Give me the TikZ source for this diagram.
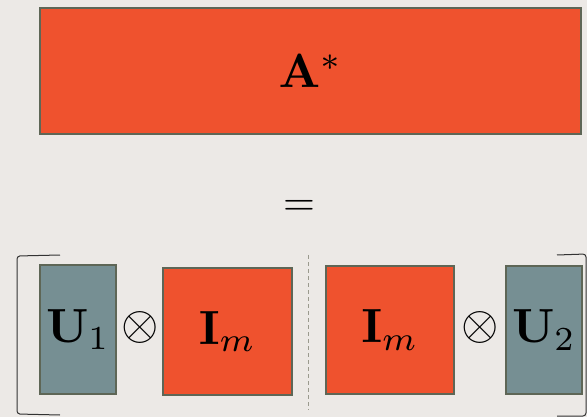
\documentclass[tikz,border=0pt]{standalone}
\usepackage{graphicx}
\definecolor{bg}{HTML}{ECE9E6}
\definecolor{orng}{HTML}{EF522E}
\definecolor{tealg}{HTML}{768F93}
\definecolor{edge}{HTML}{5E6656}
\definecolor{dashc}{HTML}{9A9A8E}
\newcommand{\matlbl}[1]{\scalebox{4.8}{#1}}
\tikzset{
  mat/.style={draw=edge, line width=2pt, inner sep=0pt},
  orbox/.style={mat, fill=orng},
  tlbox/.style={mat, fill=tealg},
  opsym/.style={inner sep=0pt},
  brk/.style={draw=black!80, line width=1pt, rounded corners=3pt}
}
\begin{document}
\begin{tikzpicture}[x=1pt, y=-1pt]
\fill[bg] (0,0) rectangle (587,417);
\useasboundingbox (0,0) rectangle (587,417);
% top matrix
\node[orbox, minimum width=541pt, minimum height=126pt] (A) at (310.5,71) {\matlbl{$\mathbf{A}^*$}};
% equals
\node[opsym] (eq) at (299,208) {\scalebox{4.1}{$=$}};
% bottom row
\node[tlbox, minimum width=76pt, minimum height=129pt] (U1) at (78,329.5) {\matlbl{$\mathbf{U}_1$}};
\node[opsym] (o1) at (140,327) {\matlbl{$\otimes$}};
\node[orbox, minimum width=129pt, minimum height=127pt] (I1) at (227.5,331.5) {\matlbl{$\mathbf{I}_m$}};
\node[orbox, minimum width=128pt, minimum height=128pt] (I2) at (390,330) {\matlbl{$\mathbf{I}_m$}};
\node[opsym] (o2) at (480.5,327) {\matlbl{$\otimes$}};
\node[tlbox, minimum width=76pt, minimum height=128pt] (U2) at (544,330) {\matlbl{$\mathbf{U}_2$}};
% dashed separator
\coordinate (dt) at (308,255);
\coordinate (db) at (308,410);
\draw[dashc, line width=1pt, dash pattern=on 4pt off 3pt] (dt) -- (db);
% brackets
\coordinate (lb1) at (60,255);
\coordinate (lb2) at (17,256);
\coordinate (lb3) at (17,414);
\coordinate (lb4) at (60,415);
\draw[brk] (lb1) -- (lb2) -- (lb3) -- (lb4);
\coordinate (rb1) at (557,255);
\coordinate (rb2) at (586,254);
\coordinate (rb3) at (586,416);
\coordinate (rb4) at (557,416);
\draw[brk] (rb1) -- (rb2) -- (rb3) -- (rb4);
\end{tikzpicture}
\end{document}
